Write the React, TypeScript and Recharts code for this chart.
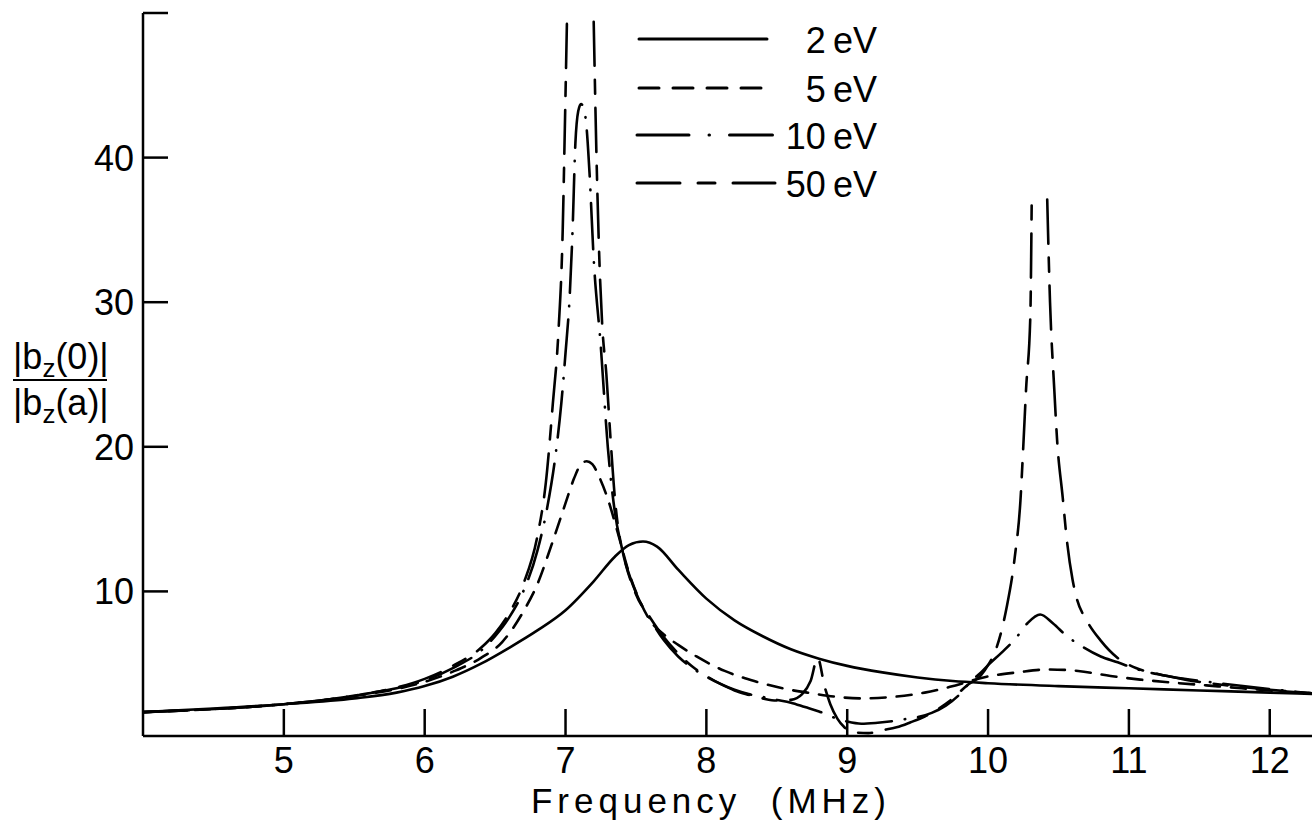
import { LineChart, Line, XAxis, YAxis, Legend, Label } from 'recharts';

// frequency (MHz) / field ratio samples for each electron temperature
const FREQ_2EV = [4.0, 4.5, 5.0, 5.5, 5.8, 6.0, 6.2, 6.4, 6.6, 6.8, 7.0, 7.2, 7.35, 7.45, 7.55, 7.65, 7.8, 8.0, 8.2, 8.4, 8.6, 8.8, 9.0, 9.25, 9.5, 9.75, 10.0, 10.5, 11.0, 11.5, 12.0, 12.3];
const RATIO_2EV = [1.65, 1.9, 2.2, 2.6, 3.0, 3.45, 4.1, 5.0, 6.1, 7.3, 8.7, 10.7, 12.4, 13.2, 13.45, 13.1, 11.5, 9.5, 8.0, 6.9, 6.0, 5.35, 4.85, 4.4, 4.05, 3.8, 3.65, 3.45, 3.3, 3.15, 3.0, 2.9];

const FREQ_5EV = [4.0, 5.0, 5.3, 5.6, 5.8, 6.0, 6.2, 6.4, 6.55, 6.7, 6.8, 6.9, 7.0, 7.06, 7.11, 7.15, 7.19, 7.24, 7.3, 7.37, 7.45, 7.52, 7.6, 7.7, 7.8, 7.93, 8.13, 8.34, 8.54, 8.75, 8.93, 9.11, 9.32, 9.55, 9.73, 9.99, 10.21, 10.43, 10.64, 10.87, 11.08, 11.3, 11.55, 11.8, 12.0, 12.3];
const RATIO_5EV = [1.65, 2.2, 2.5, 2.9, 3.25, 3.75, 4.45, 5.4, 6.5, 8.6, 10.5, 13.2, 16.1, 17.8, 18.8, 19.0, 18.8, 17.9, 16.4, 14.1, 11.3, 9.5, 8.0, 7.0, 6.3, 5.5, 4.5, 3.8, 3.3, 2.95, 2.7, 2.6, 2.7, 3.0, 3.4, 4.1, 4.4, 4.6, 4.5, 4.15, 3.9, 3.7, 3.5, 3.3, 3.15, 2.95];

const FREQ_10EV = [4.0, 5.0, 5.3, 5.6, 5.8, 6.0, 6.2, 6.4, 6.5, 6.6, 6.7, 6.8, 6.87, 6.93, 6.97, 7.0, 7.03, 7.05, 7.07, 7.09, 7.11, 7.13, 7.15, 7.17, 7.2, 7.25, 7.3, 7.35, 7.4, 7.5, 7.6, 7.7, 7.8, 7.9, 8.0, 8.1, 8.2, 8.3, 8.4, 8.5, 8.6, 8.7, 8.8, 8.9, 9.0, 9.1, 9.2, 9.3, 9.4, 9.5, 9.6, 9.7, 9.8, 9.87, 9.95, 10.0, 10.1, 10.2, 10.28, 10.37, 10.46, 10.56, 10.65, 10.8, 10.92, 11.03, 11.3, 11.6, 12.0, 12.3];
const RATIO_10EV = [1.65, 2.2, 2.5, 2.95, 3.3, 3.85, 4.7, 5.9, 6.9, 8.2, 10.0, 12.8, 15.8, 19.5, 23.0, 26.5, 30.5, 35.0, 41.0, 43.2, 43.7, 43.4, 42.0, 39.0, 33.0, 27.0, 20.0, 15.5, 13.0, 9.9, 8.1, 6.6, 5.5, 4.7, 4.1, 3.6, 3.2, 2.9, 2.7, 2.5, 2.3, 2.0, 1.7, 1.3, 1.0, 0.85, 0.9, 1.0, 1.15, 1.3, 1.6, 2.1, 2.9, 3.7, 4.4, 4.9, 5.8, 6.8, 7.8, 8.4, 7.8, 6.9, 6.3, 5.5, 5.1, 4.7, 4.1, 3.7, 3.25, 2.95];

// null entries break the curve where it runs off scale
const FREQ_50EV = [4.0, 5.0, 5.3, 5.6, 5.8, 6.0, 6.2, 6.4, 6.5, 6.6, 6.7, 6.8, 6.86, 6.91, 6.95, 6.98, 6.995, 7.01, 7.1, 7.2, 7.22, 7.24, 7.26, 7.29, 7.32, 7.35, 7.38, 7.4, 7.5, 7.6, 7.7, 7.8, 7.9, 8.0, 8.1, 8.2, 8.3, 8.4, 8.5, 8.6, 8.68, 8.74, 8.79, 8.84, 8.88, 8.93, 8.98, 9.05, 9.15, 9.25, 9.35, 9.45, 9.55, 9.65, 9.75, 9.85, 9.95, 10.0, 10.06, 10.13, 10.19, 10.23, 10.25, 10.27, 10.3, 10.31, 10.365, 10.42, 10.44, 10.47, 10.49, 10.53, 10.56, 10.6, 10.63, 10.7, 10.8, 10.92, 11.05, 11.2, 11.4, 11.7, 12.0, 12.3];
const RATIO_50EV = [1.65, 2.2, 2.5, 2.95, 3.35, 3.95, 4.85, 6.1, 7.1, 8.5, 10.5, 13.8, 17.5, 23.0, 28.0, 35.0, 42.0, 49.4, null, 49.4, 40.0, 33.0, 28.5, 25.0, 20.5, 16.5, 14.0, 13.0, 9.8, 8.2, 6.8, 5.7, 4.8, 4.15, 3.6, 3.15, 2.85, 2.6, 2.45, 2.5, 2.9, 3.8, 5.4, 3.4, 2.2, 1.2, 0.6, 0.25, 0.2, 0.4, 0.6, 0.95, 1.35, 1.9, 2.6, 3.5, 4.2, 4.9, 6.1, 8.8, 12.4, 16.3, 20.0, 24.0, 29.0, 37.1, null, 37.1, 30.0, 24.0, 20.5, 16.5, 13.5, 10.8, 9.5, 8.0, 6.6, 5.4, 4.7, 4.3, 3.9, 3.5, 3.2, 2.95];

const X_TICKS = [5, 6, 7, 8, 9, 10, 11, 12];
const Y_TICKS = [10, 20, 30, 40, 50];

const FONT = '"Liberation Sans", Arial, sans-serif';
const INK = '#000';

const toPoints = (freq: number[], ratio: (number | null)[]) =>
  freq.map((f, i) => ({ f, r: ratio[i] }));

const SERIES = [
  { name: '2 eV', data: toPoints(FREQ_2EV, RATIO_2EV), dash: undefined, key: '0' },
  { name: '5 eV', data: toPoints(FREQ_5EV, RATIO_5EV), dash: '15 11', key: '20 14' },
  { name: '10 eV', data: toPoints(FREQ_10EV, RATIO_10EV), dash: '46 13 0.5 13', key: '52 20 0.5 20 43' },
  { name: '50 eV', data: toPoints(FREQ_50EV, RATIO_50EV), dash: '44 14 14 14', key: '43 18 17 18 42' },
];

// ticks point inward, so the tick mark is drawn with the label
function YTick(props: any) {
  const { x, y, payload } = props;
  return (
    <g>
      <line x1={x} y1={y} x2={x + 25} y2={y} stroke={INK} strokeWidth={2.5} />
      {payload.value !== 50 && (
        <text x={x - 9} y={y + 13} textAnchor="end" fontSize={36} fontFamily={FONT} fill={INK}>
          {payload.value}
        </text>
      )}
    </g>
  );
}

function XTick(props: any) {
  const { x, y, payload } = props;
  return (
    <g>
      <line x1={x} y1={y} x2={x} y2={y - 27} stroke={INK} strokeWidth={2.5} />
      <text x={x} y={y + 37} textAnchor="middle" fontSize={36} fontFamily={FONT} fill={INK}>
        {payload.value}
      </text>
    </g>
  );
}

function XTitle() {
  return (
    <text x={711} y={813} textAnchor="middle" fontSize={35} fontFamily={FONT} letterSpacing={5} fill={INK}>
      Frequency{'\u00a0\u00a0'}(MHz)
    </text>
  );
}

function YTitle() {
  return (
    <g fontFamily={FONT} fill={INK}>
      <text x={13} y={369} fontSize={36}>
        |b<tspan dy={8} fontSize={26}>z</tspan>
        <tspan dy={-8}>(0)|</tspan>
      </text>
      <line x1={13} y1={380} x2={107} y2={380} stroke={INK} strokeWidth={2} />
      <text x={13} y={415} fontSize={36}>
        |b<tspan dy={8} fontSize={26}>z</tspan>
        <tspan dy={-8}>(a)|</tspan>
      </text>
    </g>
  );
}

function KeyBox() {
  const rows = [39, 88, 135, 183];
  const starts = [639, 639, 637, 637];
  const ends = [767, 762, 775, 775];
  return (
    <svg width={1314} height={220} style={{ display: 'block' }}>
      {SERIES.map((s, i) => (
        <g key={s.name}>
          <line
            x1={starts[i]}
            y1={rows[i]}
            x2={ends[i]}
            y2={rows[i]}
            stroke={INK}
            strokeWidth={3}
            strokeLinecap="round"
            strokeDasharray={s.key === '0' ? undefined : s.key}
          />
          <text x={877} y={rows[i] + 14} textAnchor="end" fontSize={36} fontFamily={FONT} fill={INK}>
            {s.name.replace(' ', '\u2009')}
          </text>
        </g>
      ))}
    </svg>
  );
}

export default function App() {
  return (
    <div style={{ position: 'absolute', left: 0, top: 0, width: 1314, height: 820, background: '#fff' }}>
      <LineChart width={1314} height={820} margin={{ top: 13, right: 2, bottom: 83, left: 142 }}>
        <XAxis
          type="number"
          dataKey="f"
          domain={[4, 12.3]}
          ticks={X_TICKS}
          interval={0}
          allowDataOverflow
          height={1}
          tickSize={0}
          tickMargin={0}
          tickLine={false}
          tick={<XTick />}
          axisLine={{ stroke: INK, strokeWidth: 2.5 }}
        >
          <Label content={<XTitle />} />
        </XAxis>
        <YAxis
          type="number"
          domain={[0, 50]}
          ticks={Y_TICKS}
          interval={0}
          allowDataOverflow
          width={1}
          tickSize={0}
          tickMargin={0}
          tickLine={false}
          tick={<YTick />}
          axisLine={{ stroke: INK, strokeWidth: 2.5 }}
        >
          <Label content={<YTitle />} />
        </YAxis>
        <Legend
          layout="vertical"
          align="center"
          verticalAlign="middle"
          content={() => <KeyBox />}
          wrapperStyle={{ left: 0, top: 0, width: 1314, height: 220, pointerEvents: 'none' }}
        />
        {SERIES.map((s) => (
          <Line
            key={s.name}
            name={s.name}
            data={s.data}
            dataKey="r"
            type="monotone"
            stroke={INK}
            strokeWidth={2.6}
            strokeDasharray={s.dash}
            strokeLinecap="round"
            dot={false}
            activeDot={false}
            isAnimationActive={false}
          />
        ))}
      </LineChart>
    </div>
  );
}
